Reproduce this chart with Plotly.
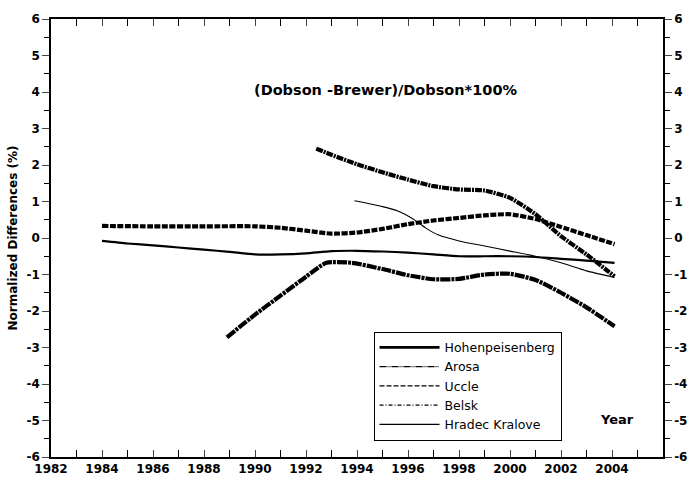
import plotly.graph_objects as go

# ---- data ----
hohen_x = [1984, 1985, 1986, 1987, 1988, 1989, 1990, 1991, 1992, 1993, 1994, 1995, 1996, 1997, 1998, 1999, 2000, 2001, 2002, 2003, 2004.1]
hohen_y = [-0.08, -0.15, -0.2, -0.26, -0.32, -0.38, -0.45, -0.45, -0.42, -0.36, -0.35, -0.37, -0.4, -0.45, -0.5, -0.5, -0.5, -0.52, -0.57, -0.62, -0.68]

arosa_x = [1988.9, 1990, 1991, 1992, 1992.8, 1993.8, 1995, 1996, 1997, 1998, 1999, 2000, 2001, 2002, 2003, 2004.1]
arosa_y = [-2.72, -2.1, -1.58, -1.06, -0.68, -0.68, -0.85, -1.02, -1.13, -1.12, -1.0, -0.98, -1.15, -1.5, -1.9, -2.42]

uccle_x = [1984, 1986, 1988, 1990, 1991, 1992, 1993, 1994, 1995, 1996, 1997, 1998, 1999, 2000, 2001, 2002, 2003, 2004.1]
uccle_y = [0.33, 0.32, 0.32, 0.32, 0.28, 0.2, 0.12, 0.15, 0.25, 0.38, 0.48, 0.55, 0.62, 0.65, 0.52, 0.3, 0.08, -0.17]

belsk_x = [1992.4, 1993, 1994, 1995, 1996, 1997, 1998, 1999, 2000, 2001, 2002, 2003, 2004.1]
belsk_y = [2.45, 2.28, 2.02, 1.8, 1.6, 1.42, 1.33, 1.3, 1.1, 0.65, 0.05, -0.45, -1.05]

hradec_x = [1993.9, 1995, 1995.6, 1996.2, 1996.7, 1997.2, 1998, 1999, 2000, 2001, 2002, 2003, 2004.1]
hradec_y = [1.02, 0.86, 0.74, 0.52, 0.27, 0.08, -0.08, -0.22, -0.36, -0.5, -0.68, -0.9, -1.08]

names = ["Hohenpeisenberg", "Arosa", "Uccle", "Belsk", "Hradec Kralove"]
x_range = [1982, 2006]
y_range = [-6, 6]
x_tickvals = [1982, 1984, 1986, 1988, 1990, 1992, 1994, 1996, 1998, 2000, 2002, 2004]
x_ticktext = ["1982", "1984", "1986", "1988", "1990", "1992", "1994", "1996", "1998", "2000", "2002", "2004"]
y_tickvals = [-6, -5, -4, -3, -2, -1, 0, 1, 2, 3, 4, 5, 6]
y_ticktext = ["-6", "-5", "-4", "-3", "-2", "-1", "0", "1", "2", "3", "4", "5", "6"]

WIDE = "DejaVu Sans, Verdana, sans-serif"

series = [
    (hohen_x, hohen_y, 2.2, "solid", 2.6, "solid"),
    (arosa_x, arosa_y, 4.2, "10px,1px,3px,1px", 1.3, "7px,1px,1px,1px,1px,1px"),
    (uccle_x, uccle_y, 4.2, "6px,1.5px", 1.3, "5px,2px"),
    (belsk_x, belsk_y, 4.2, "7px,1px,2px,1px", 1.3, "4px,2px,1px,2px"),
    (hradec_x, hradec_y, 1.1, "solid", 1.1, "solid"),
]

fig = go.Figure()
for name, (xs, ys, w, dash, lw, ldash) in zip(names, series):
    fig.add_trace(go.Scatter(x=xs, y=ys, mode="lines", showlegend=False,
                             line=dict(color="black", width=w, dash=dash, shape="spline", smoothing=0.6)))
# legend samples (thin lines like the reference legend)
for name, (xs, ys, w, dash, lw, ldash) in zip(names, series):
    fig.add_trace(go.Scatter(x=[None], y=[None], mode="lines", name=name,
                             line=dict(color="black", width=lw, dash=ldash)))
# right-hand mirrored axis
fig.add_trace(go.Scatter(x=[None], y=[None], yaxis="y2", showlegend=False, hoverinfo="skip"))

tickfont = dict(family=WIDE, size=12, color="black", weight="bold")

fig.update_layout(
    width=699, height=488,
    margin=dict(l=51, r=27, t=14, b=27),
    paper_bgcolor="white", plot_bgcolor="white",
    font=dict(family=WIDE, color="black"),
    xaxis=dict(range=x_range, tickvals=x_tickvals, ticktext=x_ticktext, ticks="inside", ticklen=7, tickwidth=1,
               showline=True, linecolor="black", linewidth=1.5, mirror="ticks",
               showgrid=False, zeroline=False, tickfont=tickfont,
               minor=dict(dtick=1, ticks="inside", ticklen=7, tickwidth=1, tickcolor="black", showgrid=False)),
    yaxis=dict(range=y_range, tickvals=y_tickvals, ticktext=y_ticktext, ticks="outside", ticklen=7, tickwidth=1,
               showline=True, linecolor="black", linewidth=1.5, mirror=True,
               showgrid=False, zeroline=False, tickfont=tickfont,
               title=dict(text="Normalized Differences (%)", standoff=6,
                          font=dict(family=WIDE, size=12, color="black", weight="bold")),
               minor=dict(dtick=0.5, ticks="outside", ticklen=5, tickwidth=1, tickcolor="black", showgrid=False)),
    yaxis2=dict(range=y_range, tickvals=y_tickvals, ticktext=y_ticktext, overlaying="y", side="right",
                ticks="outside", ticklen=7, tickwidth=1, showline=True, linecolor="black", linewidth=1.5,
                showgrid=False, zeroline=False, tickfont=tickfont,
                minor=dict(dtick=0.5, ticks="outside", ticklen=5, tickwidth=1, tickcolor="black", showgrid=False)),
    legend=dict(x=0.527, y=0.286, xanchor="left", yanchor="top", bordercolor="black", borderwidth=1,
                bgcolor="white", font=dict(family=WIDE, size=12.5, color="black"),
                tracegroupgap=0, itemwidth=60),
    annotations=[
        dict(text="(Dobson -Brewer)/Dobson*100%", xref="x", yref="y",
             x=1982 + (393 - 52) / 26.0, y=(237.5 - 86) / 37.25,
             showarrow=False, font=dict(family=WIDE, size=14.5, color="black", weight="bold")),
        dict(text="Year", x=2004.2, y=-4.98, xref="x", yref="y", showarrow=False,
             font=dict(family=WIDE, size=13, color="black", weight="bold")),
    ],
)

fig.write_html("out.html")
